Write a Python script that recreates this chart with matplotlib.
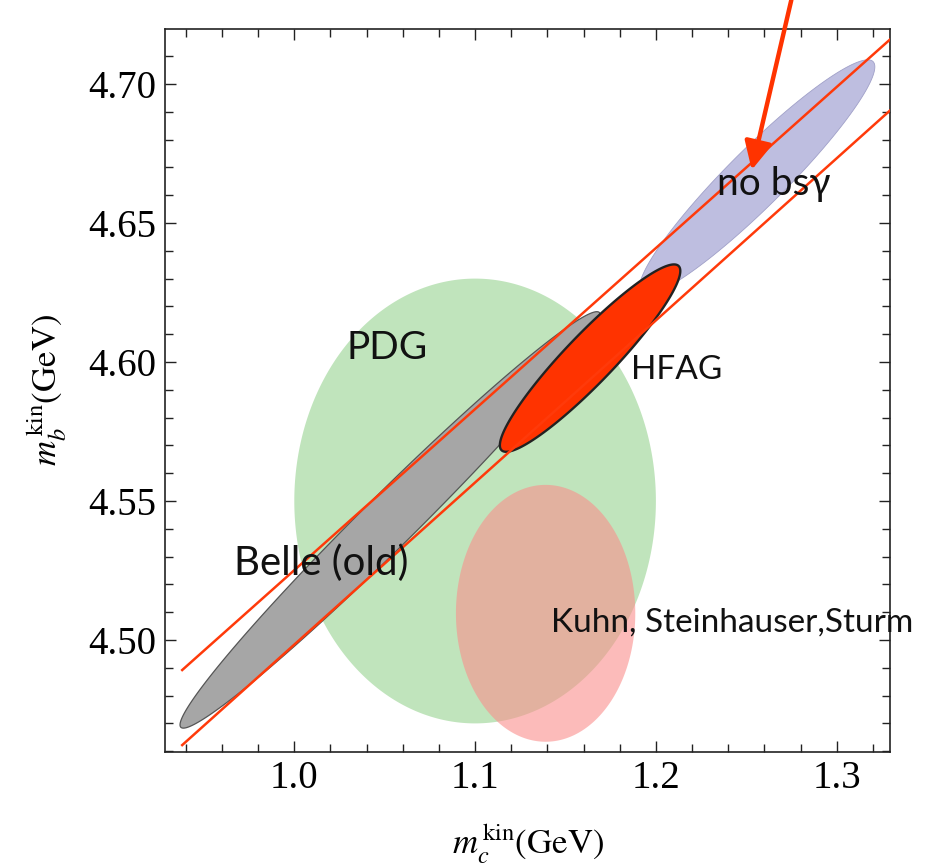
import matplotlib
matplotlib.use('Agg')
import matplotlib.pyplot as plt
import matplotlib.ticker as mtick
from matplotlib.patches import Polygon
import numpy as np

plt.rcParams['font.family'] = 'Liberation Serif'
plt.rcParams['mathtext.fontset'] = 'stix'

# ── Allowed regions in the (mc, mb) plane ────────────────────────────────────
# centre, half extents and correlation of each ellipse
NAMES     = ['PDG', 'Kuhn', 'Belle', 'nobsg', 'HFAG']
MC_CENTER = [1.100, 1.139, 1.053, 1.2560, 1.1636]
MB_CENTER = [4.550, 4.5096, 4.5432, 4.6665, 4.6014]
MC_HALF   = [0.100, 0.0496, 0.1162, 0.0651, 0.0499]
MB_HALF   = [0.080, 0.0462, 0.0749, 0.0422, 0.0337]
RHO       = [0.0, 0.0, 0.984, 0.94, 0.93]

# two bsγ constraint lines
LINE_MC  = [0.938, 1.34]
UPPER_MB = [4.4892, 4.7221]
LOWER_MB = [4.4622, 4.6966]

# arrow pointing at the "no bsγ" region (tail, head)
ARROW_MC = [1.2749, 1.2530]
ARROW_MB = [4.7302, 4.6691]

LABELS   = ['PDG', 'Belle (old)', 'HFAG', 'no bsγ', 'Kuhn, Steinhauser,Sturm']
LABEL_MC = [1.0287, 0.9669, 1.1862, 1.2337, 1.142]
LABEL_MB = [4.6011, 4.5235, 4.5939, 4.6600, 4.5032]

STYLE = {
    'PDG':   dict(facecolor='#c0e4bc', edgecolor='none', zorder=1),
    'Kuhn':  dict(facecolor='#fa8f8c', edgecolor='none', alpha=0.6, zorder=2),
    'Belle': dict(facecolor='#a6a6a6', edgecolor='#555555', lw=0.9, zorder=3),
    'nobsg': dict(facecolor='#bebee0', edgecolor='#a0a0c8', lw=0.6, zorder=4),
    'HFAG':  dict(facecolor='#ff3300', edgecolor='#222222', lw=1.7, zorder=5),
}
LABEL_SIZE = [28, 29, 24, 28, 24]
RED = '#ff3a0a'


def ellipse(cx, cy, sx, sy, rho, n=400):
    t = np.linspace(0, 2 * np.pi, n)
    s = np.sqrt(1 - rho ** 2)
    x = cx + sx * np.cos(t)
    y = cy + sy * (rho * np.cos(t) + s * np.sin(t))
    return np.column_stack([x, y])


fig = plt.figure(figsize=(9.35, 8.67), dpi=100)
ax = fig.add_axes([0.1765, 0.1326, 0.7754, 0.834])

for i, name in enumerate(NAMES):
    pts = ellipse(MC_CENTER[i], MB_CENTER[i], MC_HALF[i], MB_HALF[i], RHO[i])
    ax.add_patch(Polygon(pts, closed=True, **STYLE[name]))

ax.plot(LINE_MC, UPPER_MB, color=RED, lw=1.8, zorder=6)
ax.plot(LINE_MC, LOWER_MB, color=RED, lw=1.8, zorder=6)

ax.annotate('', xy=(ARROW_MC[1], ARROW_MB[1]), xytext=(ARROW_MC[0], ARROW_MB[0]),
            annotation_clip=False, zorder=7,
            arrowprops=dict(arrowstyle='-|>,head_length=0.85,head_width=0.42',
                            mutation_scale=20, color='#ff3300', lw=3.2,
                            shrinkA=0, shrinkB=0))

for txt, x, y, fs in zip(LABELS, LABEL_MC, LABEL_MB, LABEL_SIZE):
    ax.text(x, y, txt, fontsize=fs, family='Lato', ha='left', va='baseline',
            color='#111111', zorder=8)

ax.set_xlim(0.9285, 1.3295)
ax.set_ylim(4.4597, 4.7198)

ax.xaxis.set_major_locator(mtick.MultipleLocator(0.1))
ax.xaxis.set_minor_locator(mtick.MultipleLocator(0.02))
ax.yaxis.set_major_locator(mtick.MultipleLocator(0.05))
ax.yaxis.set_minor_locator(mtick.MultipleLocator(0.01))
ax.xaxis.set_major_formatter(mtick.FormatStrFormatter('%.1f'))
ax.yaxis.set_major_formatter(mtick.FormatStrFormatter('%.2f'))

ax.tick_params(which='both', direction='in', top=True, right=True,
               width=1.0, color='#222222')
ax.tick_params(which='major', length=8, labelsize=28, pad=6)
ax.tick_params(which='minor', length=5.5)
for sp in ax.spines.values():
    sp.set_linewidth(1.2)
    sp.set_color('#222222')

ax.set_xlabel(r'$m_c^{\,\mathrm{kin}}$(GeV)', fontsize=25, family='STIXGeneral',
              labelpad=18)
ax.set_ylabel(r'$m_b^{\,\mathrm{kin}}$(GeV)', fontsize=25, family='STIXGeneral',
              labelpad=14)

fig.savefig('out.png', dpi=100, facecolor='white')
